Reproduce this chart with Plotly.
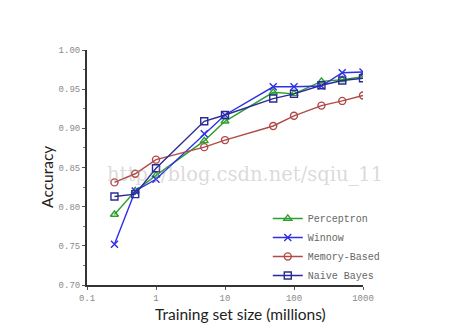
import plotly.graph_objects as go

sizes = [0.25, 0.5, 1, 5, 10, 50, 100, 250, 500, 1000]
perceptron = [0.790, 0.820, 0.840, 0.884, 0.909, 0.946, 0.944, 0.960, 0.962, 0.966]
winnow = [0.752, 0.820, 0.835, 0.893, 0.917, 0.953, 0.953, 0.954, 0.971, 0.972]
memory_based = [0.831, 0.842, 0.860, 0.876, 0.885, 0.903, 0.916, 0.929, 0.935, 0.942]
naive_bayes = [0.813, 0.816, 0.849, 0.909, 0.917, 0.938, 0.944, 0.955, 0.961, 0.964]

x_ticks = [0.1, 1, 10, 100, 1000]
x_ticklabels = ["0.1", "1", "10", "100", "1000"]
y_ticks = [0.70, 0.75, 0.80, 0.85, 0.90, 0.95, 1.00]

series = [
    ("Perceptron", perceptron, "#2ca02c", "triangle-up-open"),
    ("Winnow", winnow, "#2f2fe8", "x-thin-open"),
    ("Memory-Based", memory_based, "#b04a48", "circle-open"),
    ("Naive Bayes", naive_bayes, "#2b2b96", "square-open"),
]

fig = go.Figure()
for name, vals, col, sym in series:
    fig.add_trace(go.Scatter(
        x=sizes, y=vals, name=name, mode="lines+markers",
        line=dict(color=col, width=1.4),
        marker=dict(symbol=sym, size=7, color=col, line=dict(color=col, width=1.4)),
    ))

tickfont = dict(family="Liberation Mono, monospace", size=9, color="#8a8a8a")
titlefont = dict(family="Lato, Liberation Sans, sans-serif", size=15.5, color="#222")
fig.update_layout(
    width=473, height=331,
    margin=dict(l=87, r=110, t=50, b=46),
    paper_bgcolor="white", plot_bgcolor="white",
    showlegend=True,
    legend=dict(x=0.655, y=0.345, xanchor="left", yanchor="top",
                font=dict(family="Liberation Mono, monospace", size=10, color="#666"),
                bgcolor="rgba(0,0,0,0)", tracegroupgap=0, itemwidth=30),
    xaxis=dict(type="log", range=[-1, 3], tickvals=x_ticks, ticktext=x_ticklabels,
               showgrid=False, zeroline=False, showline=True, linecolor="#333", linewidth=2,
               ticks="outside", ticklen=3, tickcolor="#555", tickfont=tickfont),
    yaxis=dict(range=[0.70, 1.00], tickvals=y_ticks, tickformat=".2f",
               showgrid=False, zeroline=False, showline=True, linecolor="#333", linewidth=2,
               ticks="outside", ticklen=3, tickcolor="#555", tickfont=tickfont,
               minor=dict(dtick=0.025, ticks="outside", ticklen=2, tickcolor="#777")),
)
fig.add_annotation(text="Training set size (millions)", xref="paper", yref="paper",
                   x=0.555, y=-0.125, xanchor="center", yanchor="middle", showarrow=False,
                   font=titlefont)
fig.add_annotation(text="Accuracy", xref="paper", yref="paper", textangle=-90,
                   x=-0.145, y=0.46, xanchor="center", yanchor="middle", showarrow=False,
                   font=titlefont)
fig.add_annotation(text="http://blog.csdn.net/sqiu_11", xref="paper", yref="paper",
                   x=0.065, y=0.47, xanchor="left", yanchor="middle", showarrow=False,
                   font=dict(family="DejaVu Serif, serif", size=19.5, color="rgba(160,160,160,0.4)"))
fig.write_html("out.html")
